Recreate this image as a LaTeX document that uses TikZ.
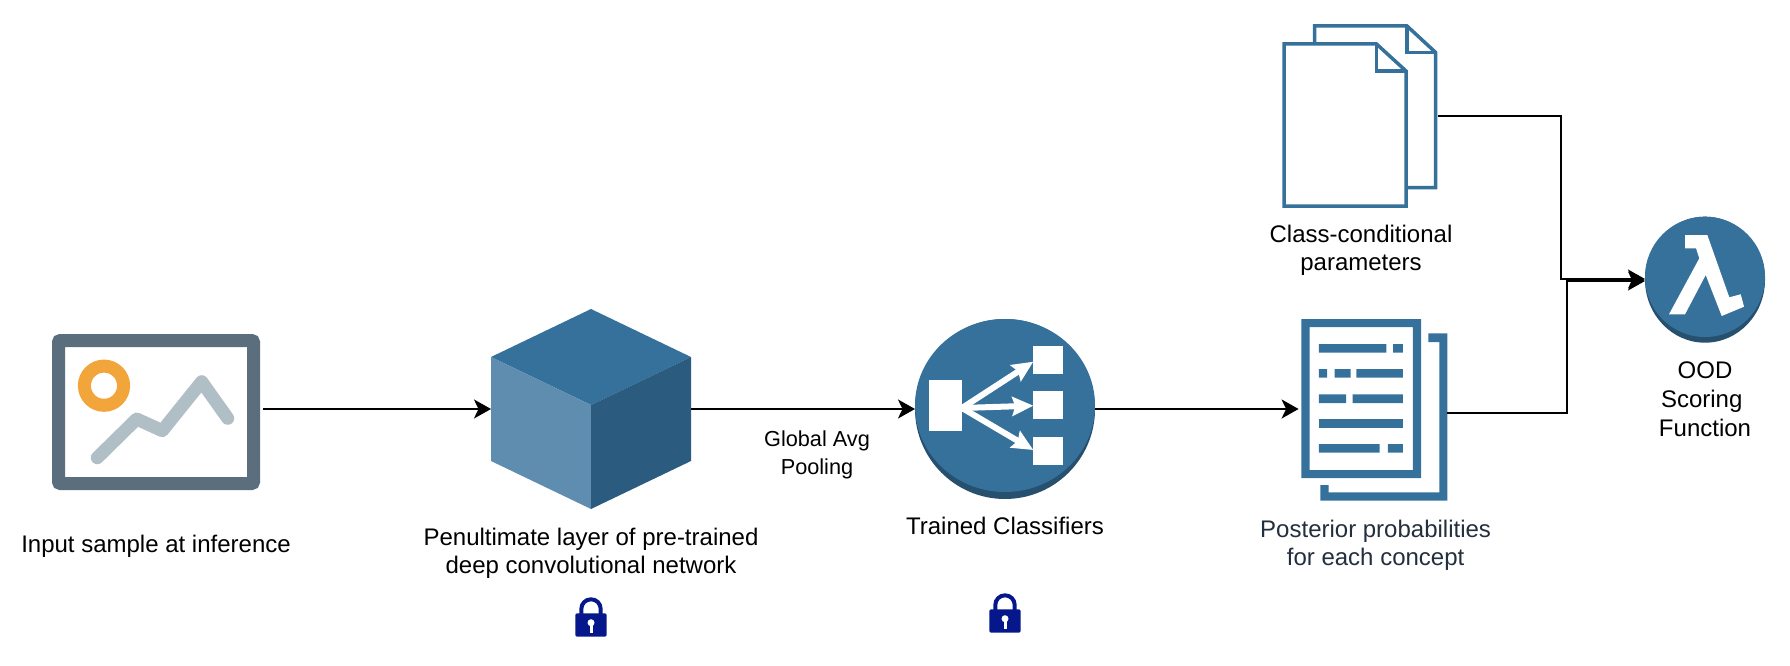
\documentclass[tikz,border=0pt]{standalone}
\usepackage{fontspec}
\setmainfont{Liberation Sans}
\usepackage{xcolor}
\usetikzlibrary{shapes.geometric, arrows.meta}

\definecolor{awsblue}{HTML}{36719C}
\definecolor{awsdark}{HTML}{27506F}
\definecolor{cubeleft}{HTML}{5E8DB0}
\definecolor{cuberight}{HTML}{2B5B7E}
\definecolor{imgframe}{HTML}{5B6E7D}
\definecolor{imgline}{HTML}{B0BEC5}
\definecolor{imgsun}{HTML}{F2A53A}
\definecolor{lockblue}{HTML}{06178C}
\definecolor{postink}{HTML}{232F3E}

% padlock, #1 = centre x, #2 = top y
\newcommand{\lockicon}[2]{%
  \begin{scope}[shift={(#1,#2)}]
    \draw [lockblue, line width=4pt] (-9.7,18) -- (-9.7,11.7) arc [start angle=180, end angle=360, radius=9.7] -- (9.7,18);
    \fill [lockblue, rounded corners=1.5pt] (-15.7,16) rectangle (15.7,39.3);
    \fill [white] (0,25.4) circle [radius=3.5];
    \fill [white] (-1.5,25.4) rectangle (1.5,35.4);
  \end{scope}}

\begin{document}
\begin{tikzpicture}[
    x=1pt, y=-1pt,
    node distance=100pt,
    every node/.style={inner sep=0pt, outer sep=0pt},
    caption/.style={align=center, text=black, font=\fontsize{24}{28}\selectfont},
    smallcaption/.style={align=center, text=black, font=\fontsize{21.7}{28}\selectfont},
    imgbox/.style={rectangle, rounded corners=2pt, minimum width=195pt, minimum height=143pt, draw=imgframe, fill=white, line width=13pt, outer sep=6.5pt},
    iconbox/.style={rectangle, minimum width=#1},
    roundicon/.style={ellipse, fill=awsdark},
    sheet/.style={draw=awsblue, fill=white, line width=3.5pt, line join=miter},
    fold/.style={draw=awsblue, line width=3.5pt, line join=miter},
    arrow/.style={line width=2.2pt, -{Stealth[length=17pt, width=19pt, inset=4.5pt]}},
    whitearrow/.style={white, line width=6pt, -{Stealth[length=21pt, width=19pt, inset=3pt]}}
]
    \useasboundingbox (0,0) rectangle (1790,666);

    \node (img) [imgbox] at (156,412) {};
    \node (cube) [iconbox=200pt, minimum height=200pt, right of=img, xshift=335pt, yshift=3pt] {};
    \node (clf) [roundicon, minimum width=180pt, minimum height=180pt, right of=cube, xshift=314pt] {};
    \node (post) [iconbox=145.9pt, minimum height=184pt, right of=clf, xshift=269.35pt] {};
    \node (cls) [iconbox=155.4pt, minimum height=183.4pt, above of=post, xshift=-14.55pt, yshift=193pt] {};
    \node (lam) [roundicon, minimum width=120pt, minimum height=126pt, right of=post, xshift=230.65pt, yshift=129.3pt] {};

    \node (imgtxt) [caption, below of=img, yshift=-34.3pt] {Input sample at inference};
    \node (cubetxt) [caption, below of=cube, yshift=-44pt] {Penultimate layer of pre-trained\\deep convolutional network};
    \node (clftxt) [caption, below of=clf, yshift=-17.2pt] {Trained Classifiers};
    \node (posttxt) [caption, text=postink, below of=post, xshift=1.25pt, yshift=-36pt] {Posterior probabilities\\for each concept};
    \node (clstxt) [caption, below of=cls, xshift=1.2pt, yshift=-34.4pt] {Class-conditional\\parameters};
    \node (lamtxt) [caption, font=\fontsize{24}{29.3}\selectfont, below of=lam, yshift=-19.6pt] {OOD\\Scoring~\null\\Function};

    % image icon
    \draw [imgsun, line width=13pt] (104,385.7) circle [radius=19.6];
    \draw [imgline, line width=13pt, line cap=round, line join=round] (97.3,457.7) -- (136.7,419) -- (162.3,430.7) -- (201.7,381.7) -- (227.7,418.3);

    % cube
    \fill [awsblue] (591,309) -- (691,357) -- (591,405) -- (491,357) -- cycle;
    \fill [cubeleft] (491,357) -- (591,405) -- (591,509) -- (491,461) -- cycle;
    \fill [cuberight] (691,357) -- (591,405) -- (591,509) -- (691,461) -- cycle;

    % classifier icon
    \fill [awsblue] (1005,405.5) ellipse [x radius=90, y radius=86.5];
    \fill [white] (929.3,380) rectangle (962.3,430.7);
    \fill [white] (1033.3,345.7) rectangle (1063.3,374);
    \fill [white] (1033.3,391.3) rectangle (1063.3,419.3);
    \fill [white] (1033.3,437) rectangle (1063.3,465.3);
    \draw [whitearrow] (962,408) -- (1033.3,361.7);
    \draw [whitearrow] (962,408) -- (1033.3,405.7);
    \draw [whitearrow] (962,408) -- (1033.3,450);

    % posterior document
    \fill [awsblue, even odd rule] (1301.4,319) rectangle (1421,478) (1309.6,327) rectangle (1412.9,470);
    \fill [awsblue] (1428.3,333.3) -- (1447.3,333.3) -- (1447.3,500.7) -- (1320.4,500.7) -- (1320.4,485) -- (1328.6,485) -- (1328.6,492.3) -- (1439.3,492.3) -- (1439.3,342) -- (1428.3,342) -- cycle;
    \fill [awsblue] (1318.9,344) rectangle (1386.4,352.6) (1393.2,344) rectangle (1402.9,352.6);
    \fill [awsblue] (1318.9,369) rectangle (1327.1,377.6) (1334.6,369) rectangle (1350.7,377.6) (1356.4,369) rectangle (1402.9,377.6);
    \fill [awsblue] (1318.9,394.4) rectangle (1346.1,403) (1352.5,394.4) rectangle (1402.9,403);
    \fill [awsblue] (1318.9,419) rectangle (1402.9,427.6);
    \fill [awsblue] (1318.9,444) rectangle (1379.6,452.6) (1387.9,444) rectangle (1402.9,452.6);

    % parameter documents
    \draw [sheet] (1314.5,26) -- (1407,26) -- (1435.7,52.5) -- (1435.7,187.5) -- (1314.5,187.5) -- cycle;
    \draw [fold] (1407,26) -- (1407,52.5) -- (1435.7,52.5);
    \draw [sheet] (1284,44) -- (1376.5,44) -- (1406,71) -- (1406,206) -- (1284,206) -- cycle;
    \draw [fold] (1376.5,44) -- (1376.5,71) -- (1406,71);

    % lambda icon
    \fill [awsblue] (1705,276.85) ellipse [x radius=60, y radius=60.15];
    \fill [white] (1685,235) -- (1707.3,235) -- (1729.3,297.3) -- (1740.7,294.3) -- (1744,306.7) -- (1721.7,316) -- (1705.7,275) -- (1685,314.3) -- (1669,314.3) -- (1699.3,258.3) -- (1696,248.3) -- (1685,248.3) -- cycle;

    \lockicon{591}{597.3}
    \lockicon{1005}{593.3}

    \coordinate (upjoin) at (1561,279);
    \coordinate (lowjoin) at (1567,281);
    \coordinate (postout) at (1447.3,413);

    \draw [arrow] ([xshift=3pt, yshift=3pt]img.east) -- (cube.west);
    \draw [arrow] (cube.east) -- node[smallcaption, pos=0.5625, anchor=north, yshift=-21.5pt] {Global Avg\\Pooling} (clf.west);
    \draw [arrow, shorten >=2.8pt] (clf.east) -- (post.west);
    \draw [arrow] (cls.east) -| (upjoin) -- ([yshift=0.7pt]lam.west);
    \draw [arrow] (postout) -| (lowjoin) -- ([yshift=-1.3pt]lam.west);
\end{tikzpicture}
\end{document}
